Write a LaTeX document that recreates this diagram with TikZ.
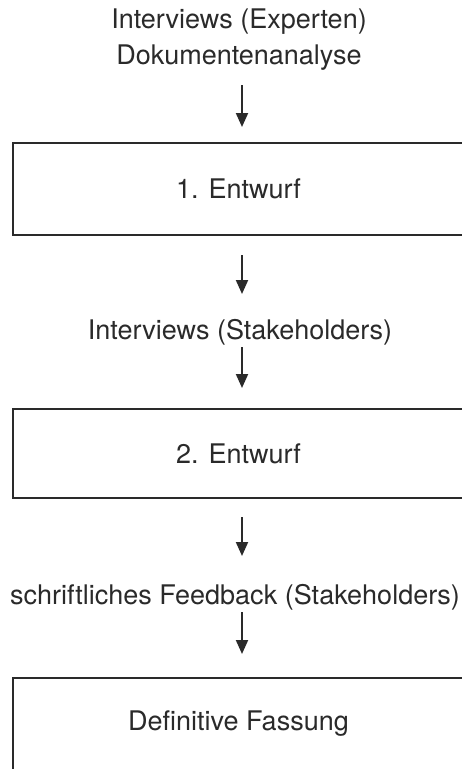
\documentclass[tikz,border=0pt]{standalone}
\usepackage{fontspec}
\setmainfont{TeX Gyre Heros}
\usetikzlibrary{arrows.meta}
\definecolor{ink}{HTML}{2A2A2A}
\tikzset{
  label/.style={text=ink, font=\fontsize{27}{36}\selectfont, align=center, inner sep=0pt},
  stage/.style={draw=ink, line width=1.3pt, minimum width=460pt, inner sep=0pt,
                text=ink, font=\fontsize{27}{36}\selectfont},
  flow/.style={draw=ink, line width=2pt, -{Triangle[length=14pt,width=12pt]}}
}
\begin{document}
\begin{tikzpicture}[x=1pt, y=-1pt]
  \useasboundingbox (0,0) rectangle (462,769);
  \clip (0,0) rectangle (462,769);
  \fill[white] (0,0) rectangle (462,769);

  % inputs and stages, top to bottom
  \node[label] (src) at (239,40) {Interviews (Experten)\\Dokumentenanalyse};
  \node[stage, minimum height=92pt] (d1) at (243,189) {\hspace*{-9pt}1. Entwurf};
  \node[label] (int) at (240,332) {Interviews (Stakeholders)};
  \node[stage, minimum height=89pt] (d2) at (243,453.5) {\hspace*{-9pt}2. Entwurf};
  \node[label] (fb) at (235,597) {schriftliches Feedback (Stakeholders)};
  \node[stage, minimum height=92pt] (fin) at (243,724) {\hspace*{-9pt}Definitive Fassung};

  % arrow anchors
  \coordinate (a1s) at (242,85);  \coordinate (a1e) at (242,127);
  \coordinate (a2s) at (242,255); \coordinate (a2e) at (242,294);
  \coordinate (a3s) at (242,347); \coordinate (a3e) at (242,388);
  \coordinate (a4s) at (242,517); \coordinate (a4e) at (242,556);
  \coordinate (a5s) at (242,612); \coordinate (a5e) at (242,654);

  \draw[flow] (a1s) -- (a1e);
  \draw[flow] (a2s) -- (a2e);
  \draw[flow] (a3s) -- (a3e);
  \draw[flow] (a4s) -- (a4e);
  \draw[flow] (a5s) -- (a5e);
\end{tikzpicture}
\end{document}
